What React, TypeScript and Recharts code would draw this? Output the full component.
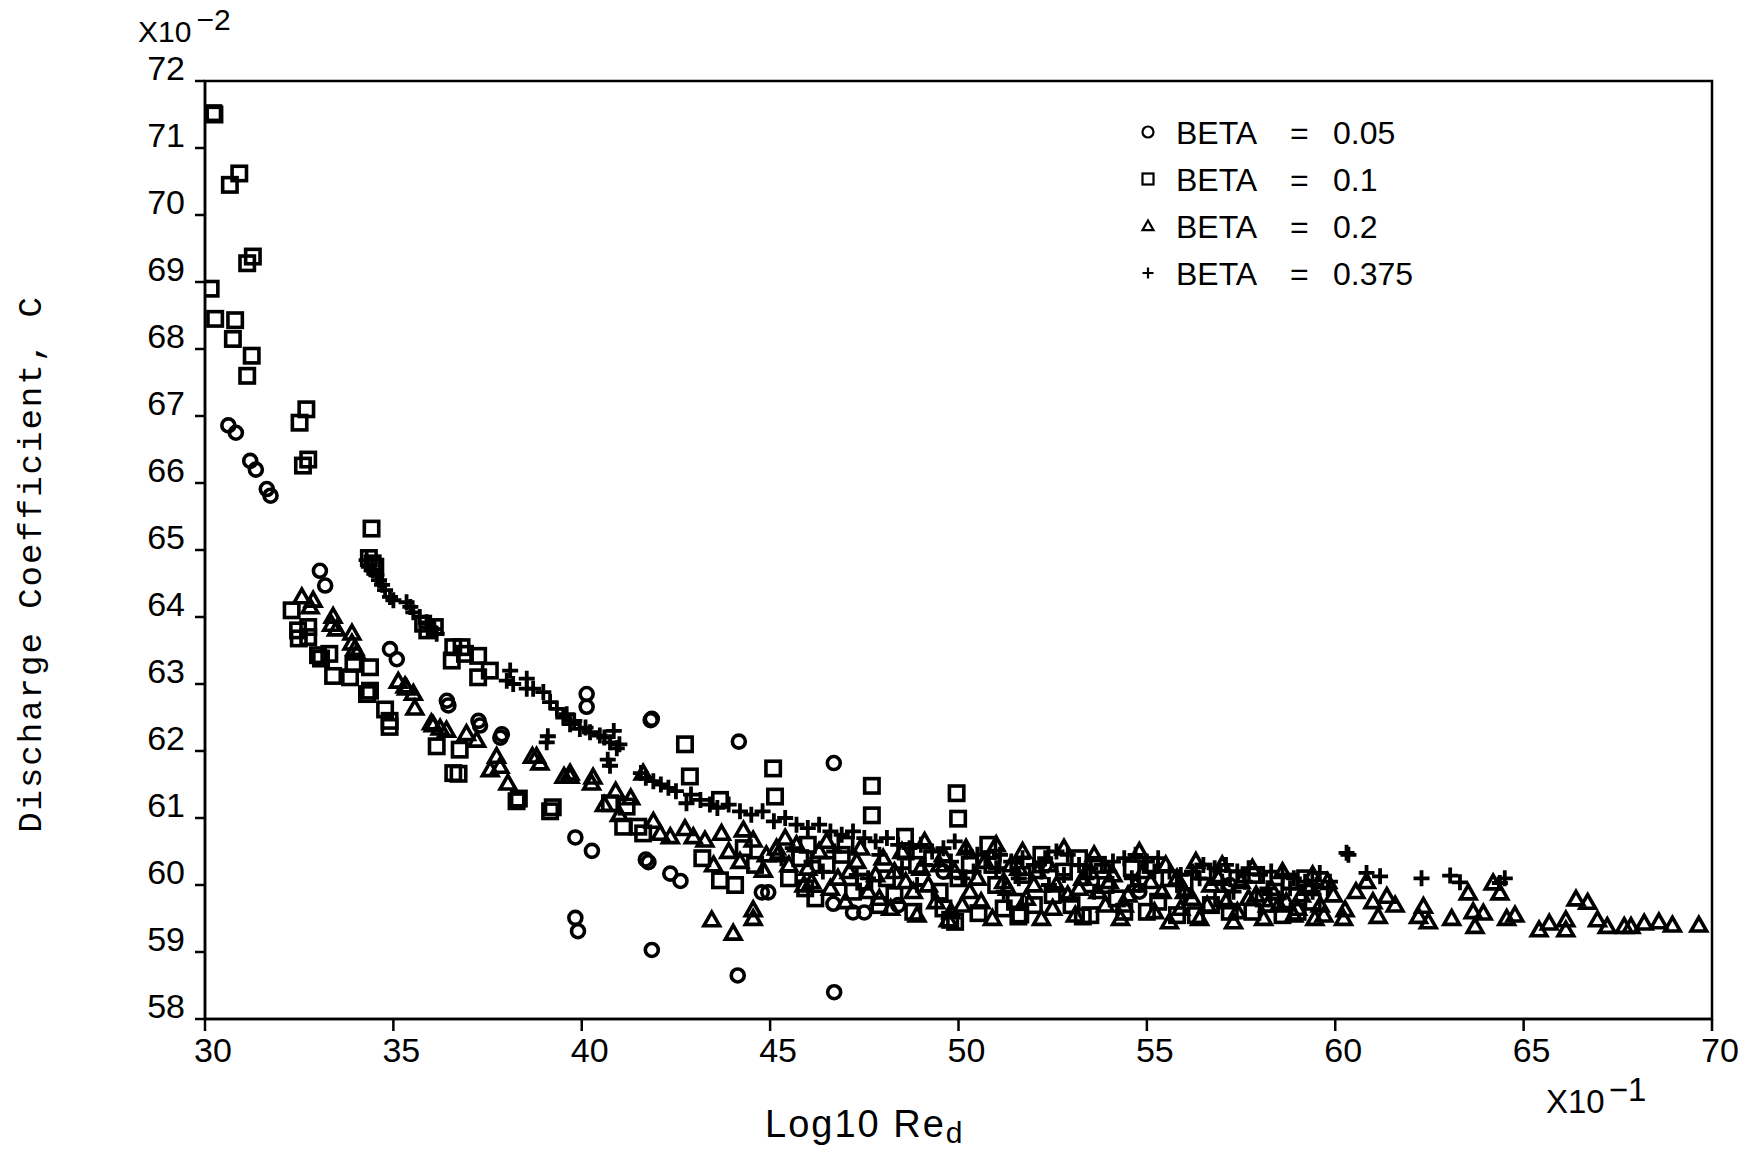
import React from 'react';
import {
  ScatterChart,
  Scatter,
  XAxis,
  YAxis,
  ReferenceArea
} from 'recharts';

// Log10 Re_d (x10^-1) and discharge coefficient C (x10^-2)
const xTicks = [30, 35, 40, 45, 50, 55, 60, 65, 70];
const yTicks = [58, 59, 60, 61, 62, 63, 64, 65, 66, 67, 68, 69, 70, 71, 72];

const beta005: [number, number][] = [
  [30.62, 66.86], [30.82, 66.75], [31.2, 66.33], [31.35, 66.2], [31.64, 65.91], [31.74, 65.81],
  [33.05, 64.69], [33.19, 64.47], [34.91, 63.52], [35.09, 63.37], [36.42, 62.75], [36.46, 62.68],
  [37.26, 62.45], [37.3, 62.38], [37.88, 62.25], [37.84, 62.2], [40.13, 62.85], [40.13, 62.66],
  [41.86, 62.48], [41.83, 62.46], [44.17, 62.14], [46.69, 61.82],
  [39.83, 60.71], [40.27, 60.51], [41.77, 60.34], [41.7, 60.38], [42.35, 60.17], [42.62, 60.06],
  [44.78, 59.89], [44.95, 59.89], [46.68, 59.72], [47.2, 59.59], [47.5, 59.59],
  [39.83, 59.51], [39.9, 59.31], [41.86, 59.03], [44.14, 58.65], [46.7, 58.4],
  [48.4, 59.7], [49.6, 60.2], [52.3, 60.3], [54.8, 59.9], [57.2, 60.0]
];

const beta01: [number, number][] = [
  [30.22, 71.52], [30.25, 71.5], [30.66, 70.45], [30.91, 70.62], [31.12, 69.28], [31.27, 69.38],
  [30.15, 68.9], [30.27, 68.45], [30.8, 68.43], [30.74, 68.15], [31.24, 67.9], [31.12, 67.6],
  [32.69, 67.1], [32.51, 66.9], [32.74, 66.35], [32.6, 66.26], [34.42, 65.32],
  [34.35, 64.88], [34.45, 64.8], [34.52, 64.75],
  [32.3, 64.1], [32.47, 63.8], [32.49, 63.68], [32.74, 63.85], [32.74, 63.7],
  [33.0, 63.43], [33.3, 63.45], [33.08, 63.38], [33.4, 63.12], [33.85, 63.1], [33.94, 63.3],
  [34.38, 63.25], [34.38, 62.9], [34.3, 62.85], [34.78, 62.62], [34.9, 62.45], [34.9, 62.36],
  [35.79, 63.9], [36.1, 63.85], [35.9, 63.8], [36.59, 63.55], [36.55, 63.35], [36.81, 63.55],
  [37.25, 63.42], [37.25, 63.1], [37.56, 63.2], [36.9, 63.45],
  [36.15, 62.07], [36.59, 61.67], [36.76, 62.02], [36.73, 61.66], [38.33, 61.29], [39.23, 61.16],
  [38.27, 61.25], [39.16, 61.1],
  [42.74, 62.1], [45.08, 61.74], [47.7, 61.48], [49.95, 61.37], [49.99, 60.99], [47.7, 61.04],
  [45.13, 61.32], [42.87, 61.62], [43.67, 61.27], [48.58, 60.72], [43.67, 60.07], [44.07, 60.0],
  [41.5, 60.87], [41.63, 60.77], [40.75, 61.22], [41.19, 61.17], [41.1, 60.87], [45.93, 59.95],
  [50.79, 60.6], [49.78, 59.48], [50.53, 59.58], [51.59, 59.53], [49.91, 59.45], [51.64, 59.56],
  [53.3, 59.53],
  [46.5, 60.3], [47.2, 59.9], [48.1, 60.1], [48.8, 59.6], [49.3, 60.4], [51.0, 60.0], [52.0, 59.7],
  [52.8, 60.2], [53.5, 59.55], [54.2, 59.8], [55.0, 59.6], [55.6, 60.1], [56.3, 59.55], [57.0, 59.8],
  [57.8, 59.6], [58.4, 59.9], [59.0, 59.6], [44.6, 60.3], [45.5, 60.1], [46.0, 60.6],
  [46.2, 59.8], [46.9, 60.45], [47.5, 60.05], [48.3, 59.85], [48.9, 60.3], [49.5, 59.9], [50.3, 60.3],
  [51.2, 59.65], [51.7, 60.15], [52.5, 59.85], [53.2, 60.4], [53.9, 60.0], [54.6, 60.25], [55.3, 59.75],
  [56.0, 60.05], [56.7, 59.7], [57.4, 60.1], [58.1, 59.8], [58.8, 60.05], [59.4, 59.75],
  [45.8, 60.4], [47.0, 60.6], [47.9, 59.7], [48.6, 60.5], [49.6, 59.65], [50.0, 60.1], [50.9, 60.3],
  [51.5, 59.75], [52.2, 60.45], [53.0, 59.7], [53.7, 60.3], [54.4, 59.6], [55.1, 60.3], [55.8, 59.55],
  [56.5, 60.2], [57.2, 59.6], [57.9, 60.15], [58.6, 59.55], [59.2, 60.1], [44.3, 60.55], [43.2, 60.4]
];

const beta02: [number, number][] = [
  [32.57, 64.3], [32.87, 64.25], [32.79, 64.15], [33.4, 64.01], [33.36, 63.89], [33.49, 63.82],
  [33.9, 63.76], [33.9, 63.61], [33.98, 63.53], [34.03, 63.46], [35.13, 63.04], [35.35, 62.94],
  [35.53, 62.86], [35.57, 62.64], [35.31, 62.97], [36.06, 62.39], [36.24, 62.34], [36.41, 62.31],
  [36.01, 62.42], [36.94, 62.26], [37.21, 62.16], [37.74, 61.92], [37.83, 61.77], [38.8, 61.92],
  [38.89, 61.82], [39.69, 61.67], [40.3, 61.61], [41.63, 61.67], [39.69, 61.62], [40.26, 61.52],
  [38.69, 61.92], [39.53, 61.62], [38.04, 61.52], [37.57, 61.72],
  [40.6, 61.2], [41.0, 61.05], [41.3, 61.3], [40.9, 61.4], [41.9, 60.95],
  [42.08, 60.77], [42.35, 60.72], [42.74, 60.84], [42.96, 60.72], [43.27, 60.67], [43.71, 60.77],
  [44.29, 60.82], [44.55, 60.67], [45.17, 60.55], [43.45, 59.48], [44.02, 59.28], [44.55, 59.63],
  [44.55, 59.5], [44.82, 60.22], [49.73, 59.48],
  [43.9, 60.5], [44.2, 60.35], [44.9, 60.45], [45.4, 60.7], [43.5, 60.3],
  [45.5, 60.3], [45.9, 60.0], [46.3, 60.5], [46.8, 60.1], [47.3, 60.35], [47.9, 59.8], [48.3, 60.2],
  [48.9, 59.55], [49.2, 60.0], [49.6, 60.45], [50.1, 59.7], [50.5, 60.1], [50.9, 59.5], [51.4, 60.3],
  [51.8, 59.8], [52.2, 59.5], [52.6, 60.0], [53.1, 59.55], [53.5, 60.2], [53.9, 59.7], [54.3, 59.5],
  [54.7, 60.0], [55.2, 59.6], [55.6, 59.45], [56.0, 59.9], [56.4, 59.5], [56.9, 60.1], [57.3, 59.45],
  [57.7, 59.8], [58.1, 59.5], [58.5, 59.7], [58.9, 59.55], [59.3, 59.95], [59.46, 59.5], [59.8, 60.05],
  [46.0, 60.25], [46.6, 59.95], [47.1, 60.2], [47.6, 59.9], [48.0, 60.4], [48.6, 60.05], [49.0, 60.25],
  [49.4, 59.75], [49.9, 60.2], [50.3, 59.9], [50.7, 60.35], [51.2, 60.05], [51.6, 60.25], [52.0, 60.0],
  [52.4, 60.3], [52.9, 59.85], [53.3, 60.1], [53.7, 59.9], [54.1, 60.15], [54.5, 59.85], [54.9, 60.2],
  [55.4, 59.9], [55.8, 60.1], [56.2, 59.8], [56.7, 60.0], [57.1, 59.75], [57.5, 60.05], [57.9, 59.85],
  [58.3, 59.95], [58.7, 59.75], [59.1, 59.85], [59.6, 59.7],
  [45.2, 60.45], [45.7, 60.6], [46.1, 60.05], [46.5, 60.65], [47.0, 59.75], [47.4, 60.55], [47.8, 60.15],
  [48.2, 59.65], [48.5, 60.5], [48.8, 59.9], [49.1, 60.65], [49.5, 60.3], [49.8, 59.6], [50.2, 60.55],
  [50.6, 59.75], [51.0, 60.6], [51.3, 59.95], [51.7, 60.5], [52.1, 60.2], [52.5, 59.65], [52.8, 60.55],
  [53.2, 59.95], [53.6, 60.45], [54.0, 60.05], [54.4, 59.7], [54.8, 60.5], [55.1, 60.05], [55.5, 60.3],
  [55.9, 59.65], [56.3, 60.35], [56.6, 59.7], [57.0, 60.3], [57.4, 59.6], [57.8, 60.25], [58.2, 59.7],
  [58.6, 60.2], [59.0, 59.65], [59.4, 60.15], [59.7, 59.55],
  [60.22, 59.5], [60.26, 59.63], [61.14, 59.53], [61.59, 59.7], [61.37, 59.83], [60.83, 60.05],
  [62.21, 59.53], [62.47, 59.45], [62.34, 59.68], [63.09, 59.5], [63.53, 59.88], [63.66, 59.6],
  [63.71, 59.38], [63.93, 59.58], [64.19, 60.03], [64.37, 59.88], [64.55, 59.5], [64.77, 59.55],
  [65.41, 59.33], [65.68, 59.43], [66.12, 59.48], [66.12, 59.33], [66.39, 59.79], [66.7, 59.74],
  [66.96, 59.48], [67.22, 59.38], [67.67, 59.38], [67.85, 59.38], [68.2, 59.43], [68.59, 59.45],
  [68.95, 59.4], [69.65, 59.4], [59.95, 59.85], [60.55, 59.9], [61.0, 59.75]
];

const beta0375: [number, number][] = [
  [34.29, 64.85], [34.35, 64.75], [34.45, 64.7], [34.55, 64.62], [34.62, 64.55], [34.7, 64.48],
  [34.78, 64.4], [34.91, 64.3], [35.0, 64.25], [35.35, 64.22], [35.45, 64.15], [35.53, 64.07],
  [35.7, 64.0], [35.88, 63.92], [35.95, 63.85], [36.06, 63.82], [36.15, 63.75],
  [38.01, 63.05], [38.18, 63.0], [38.54, 62.93], [38.71, 62.93], [38.98, 62.88], [39.16, 62.73],
  [39.34, 62.63], [38.1, 63.2], [38.54, 63.08],
  [39.51, 62.5], [39.69, 62.4], [39.95, 62.33], [40.22, 62.28], [40.48, 62.23], [40.75, 62.13],
  [40.93, 62.04], [39.07, 62.13], [39.1, 62.22], [39.6, 62.55], [39.8, 62.45], [40.1, 62.35],
  [40.6, 62.2], [40.85, 62.3], [41.0, 62.1], [40.69, 61.87], [40.75, 61.78],
  [41.57, 61.67], [41.7, 61.6], [41.9, 61.55], [42.1, 61.5], [42.3, 61.45], [42.5, 61.4],
  [42.78, 61.22], [42.9, 61.35], [43.15, 61.27], [43.4, 61.2], [43.6, 61.15], [43.9, 61.2],
  [44.2, 61.1], [44.5, 61.05], [44.8, 61.1], [45.1, 60.95], [45.4, 61.0], [45.7, 60.9],
  [46.0, 60.85], [46.3, 60.9], [46.6, 60.8], [46.9, 60.75], [47.2, 60.8], [47.5, 60.7],
  [47.8, 60.65], [48.1, 60.7], [48.4, 60.6], [48.7, 60.55], [49.0, 60.6], [49.3, 60.5],
  [49.6, 60.55], [49.9, 60.65], [50.2, 60.5], [50.5, 60.45], [50.8, 60.4], [51.1, 60.45],
  [51.4, 60.35], [51.7, 60.4], [52.0, 60.3], [52.3, 60.4], [52.6, 60.5], [52.9, 60.45],
  [53.2, 60.3], [53.5, 60.25], [53.8, 60.3], [54.1, 60.35], [54.4, 60.4], [54.7, 60.45],
  [55.0, 60.35], [55.3, 60.4], [55.6, 60.2], [55.9, 60.15], [56.2, 60.2], [56.5, 60.3],
  [56.8, 60.25], [57.1, 60.3], [57.4, 60.2], [57.7, 60.25], [58.0, 60.15], [58.3, 60.2],
  [58.6, 60.15], [58.9, 60.1], [59.2, 60.05], [59.5, 60.0], [59.8, 59.95],
  [45.3, 60.4], [46.4, 60.2], [47.6, 60.1], [48.9, 60.0], [50.1, 60.1], [51.2, 59.9],
  [52.4, 60.0], [53.6, 59.9], [54.8, 60.0], [56.0, 59.85], [57.3, 59.9], [58.5, 59.8],
  [45.6, 60.55], [46.1, 60.35], [46.7, 60.5], [47.3, 60.15], [47.9, 60.45], [48.5, 60.25],
  [49.1, 60.3], [49.8, 60.35], [50.4, 60.2], [51.0, 60.25], [51.6, 60.1], [52.2, 60.2],
  [52.8, 60.15], [53.4, 60.1], [54.0, 60.2], [54.6, 60.1], [55.2, 60.2], [55.8, 60.0],
  [56.4, 60.1], [57.0, 60.05], [57.6, 60.05], [58.2, 59.95], [58.8, 59.95], [59.4, 59.9],
  [60.3, 60.48], [60.35, 60.45], [59.59, 60.18], [59.86, 60.05], [60.83, 60.18], [61.19, 60.13],
  [62.29, 60.1], [63.05, 60.14], [63.31, 60.04], [64.37, 60.03], [64.5, 60.1]
];

const legendLabels = ['0.05', '0.1', '0.2', '0.375'];

const toPoints = (arr: [number, number][]) => arr.map(([x, y]) => ({ x, y }));

const INK = '#000';
const SANS = '"Liberation Sans", Arial, sans-serif';
const MONO = '"Liberation Mono", "DejaVu Sans Mono", monospace';

// marker shapes, drawn like a pen plotter would
const CircleMark = ({ cx, cy, s = 6.5, w = 3.6 }: any) => (
  <circle cx={cx} cy={cy} r={s} fill="none" stroke={INK} strokeWidth={w} />
);
const SquareMark = ({ cx, cy, s = 7.2, w = 3.6 }: any) => (
  <rect x={cx - s} y={cy - s} width={s * 2} height={s * 2} fill="none" stroke={INK} strokeWidth={w} />
);
const TriangleMark = ({ cx, cy, s = 7.8, w = 3.6 }: any) => (
  <path d={`M${cx},${cy - s} L${cx + s},${cy + s * 0.75} L${cx - s},${cy + s * 0.75} Z`} fill="none" stroke={INK} strokeWidth={w} strokeLinejoin="miter" />
);
const PlusMark = ({ cx, cy, s = 8, w = 3.8 }: any) => (
  <path d={`M${cx - s},${cy} H${cx + s} M${cx},${cy - s} V${cy + s}`} fill="none" stroke={INK} strokeWidth={w} />
);

const legendMarks = [CircleMark, SquareMark, TriangleMark, PlusMark];

const XTick = ({ x, y, payload }: any) => (
  <text x={x + 8} y={y + 25} textAnchor="middle" fontFamily={SANS} fontSize={34} fill={INK}>
    {payload.value}
  </text>
);

const YTick = ({ x, y, payload }: any) => (
  <text x={x} y={y - 1} textAnchor="end" fontFamily={SANS} fontSize={34} fill={INK}>
    {payload.value}
  </text>
);

export default function App() {
  return (
    <div style={{ position: 'absolute', left: 0, top: 0, width: 1757, height: 1153, background: '#fff' }}>
      <ScatterChart
        width={1757}
        height={1153}
        margin={{ top: 81, right: 45, bottom: 74, left: 125 }}
      >
        <XAxis
          type="number"
          dataKey="x"
          domain={[30, 70]}
          ticks={xTicks}
          allowDataOverflow
          axisLine={{ stroke: INK, strokeWidth: 2.5 }}
          tickLine={{ stroke: INK, strokeWidth: 2.5 }}
          tickSize={12}
          tickMargin={6}
          height={60}
          tick={<XTick />}
        />
        <YAxis
          type="number"
          dataKey="y"
          domain={[58, 72]}
          ticks={yTicks}
          allowDataOverflow
          axisLine={{ stroke: INK, strokeWidth: 2.5 }}
          tickLine={{ stroke: INK, strokeWidth: 2.5 }}
          tickSize={10}
          tickMargin={10}
          width={80}
          tick={<YTick />}
        />
        <ReferenceArea x1={30} x2={70} y1={58} y2={72} fill="none" fillOpacity={0} stroke={INK} strokeWidth={2.5} />
        <Scatter name="BETA = 0.05" data={toPoints(beta005)} shape={(p: any) => <CircleMark cx={p.cx} cy={p.cy} />} isAnimationActive={false} />
        <Scatter name="BETA = 0.1" data={toPoints(beta01)} shape={(p: any) => <SquareMark cx={p.cx} cy={p.cy} />} isAnimationActive={false} />
        <Scatter name="BETA = 0.2" data={toPoints(beta02)} shape={(p: any) => <TriangleMark cx={p.cx} cy={p.cy} />} isAnimationActive={false} />
        <Scatter name="BETA = 0.375" data={toPoints(beta0375)} shape={(p: any) => <PlusMark cx={p.cx} cy={p.cy} />} isAnimationActive={false} />
      </ScatterChart>

      {/* titles, exponents and legend */}
      <svg width={1757} height={1153} style={{ position: 'absolute', left: 0, top: 0, pointerEvents: 'none' }}>
        <text x={138} y={42} fontFamily={SANS} fontSize={30} fill={INK}>
          X10<tspan dx={5} dy={-12}>−2</tspan>
        </text>
        <text x={1546} y={1113} fontFamily={SANS} fontSize={33} fill={INK}>
          X10<tspan dx={4} dy={-12}>−1</tspan>
        </text>
        <text x={765} y={1137} fontFamily={SANS} fontSize={38} fill={INK} letterSpacing={2}>
          Log10 Re<tspan dy={6} fontSize={30}>d</tspan>
        </text>
        <text
          x={41}
          y={564}
          transform="rotate(-90, 41, 564)"
          textAnchor="middle"
          fontFamily={MONO}
          fontSize={34}
          letterSpacing={2}
          fill={INK}
        >
          Discharge Coefficient, C
        </text>
        {legendLabels.map((v, i) => {
          const Mark = legendMarks[i];
          const cy = 132 + i * 47;
          return (
            <g key={v}>
              <Mark cx={1148} cy={cy} s={5.5} w={2.2} />
              <text y={cy + 11.5} fontFamily={SANS} fontSize={32} fill={INK}>
                <tspan x={1176}>BETA</tspan>
                <tspan x={1290}>=</tspan>
                <tspan x={1333}>{v}</tspan>
              </text>
            </g>
          );
        })}
      </svg>
    </div>
  );
}
